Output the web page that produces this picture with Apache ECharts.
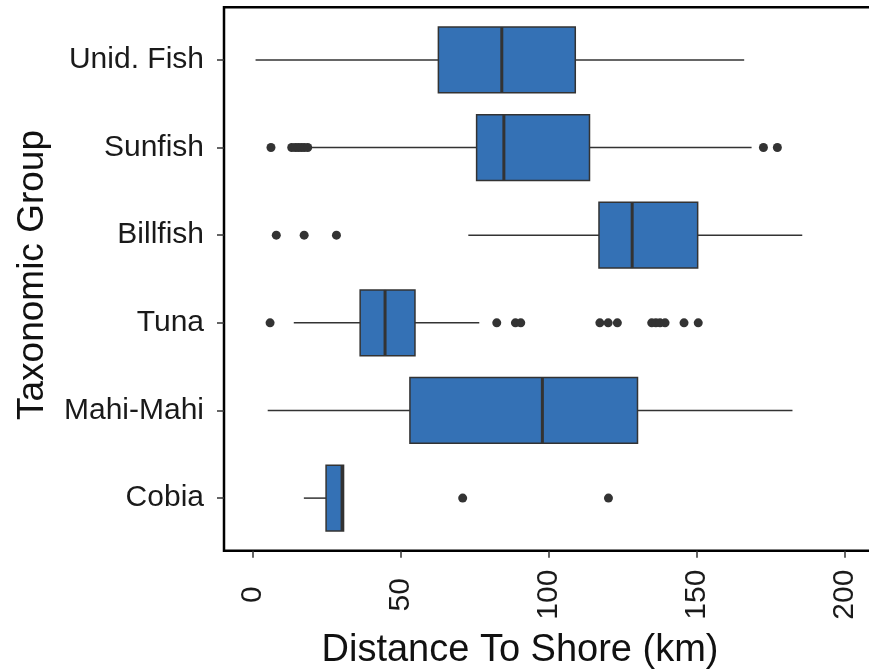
<!DOCTYPE html>
<html>
<head>
<meta charset="utf-8">
<title>Distance To Shore by Taxonomic Group</title>
<script src="https://cdn.jsdelivr.net/npm/echarts@6/dist/echarts.min.js"></script>
<style>
  html, body { margin: 0; padding: 0; background: #ffffff; }
  #chart { width: 869px; height: 672px; }
</style>
</head>
<body>
<div id="chart"></div>
<script>
// Groups, listed top to bottom
const categories = ['Unid. Fish', 'Sunfish', 'Billfish', 'Tuna', 'Mahi-Mahi', 'Cobia'];

// Five-number summaries (km)
const whiskerLow  = [1.1, 20.0, 72.9, 14.0, 5.2, 17.4];
const lowerQuart  = [62.8, 75.7, 117.0, 36.4, 53.2, 24.9];
const medians     = [84.2, 84.9, 128.2, 44.8, 97.9, 30.3];
const upperQuart  = [109.0, 113.8, 150.3, 54.9, 130.0, 30.8];
const whiskerHigh = [166.0, 168.5, 185.6, 76.6, 182.3, 30.8];

// Outlying observations per group (km)
const outliersUnidFish = [];
const outliersSunfish  = [6.3, 13.3, 14.5, 15.5, 16.5, 17.5, 18.7, 172.5, 177.2];
const outliersBillfish = [8.1, 17.5, 28.4];
const outliersTuna     = [6.0, 82.5, 88.8, 90.6, 117.3, 120.1, 123.2, 134.8, 136.2, 137.6, 139.3, 145.7, 150.5];
const outliersMahiMahi = [];
const outliersCobia    = [71.0, 120.2];

// X axis ticks
const xTicks = [0, 50, 100, 150, 200];

const outlierGroups = [outliersUnidFish, outliersSunfish, outliersBillfish,
                       outliersTuna, outliersMahiMahi, outliersCobia];

const boxData = categories.map(function (c, i) {
  return [i, whiskerLow[i], lowerQuart[i], medians[i], upperQuart[i], whiskerHigh[i]];
});
const outlierData = [];
outlierGroups.forEach(function (vals, i) {
  vals.forEach(function (v) { outlierData.push([v, i]); });
});

const FONT = "'Liberation Sans', Arial, sans-serif";
const INK = '#333333';
const X_MIN = -9.55, X_MAX = 211.5;

// Panel frame and the plotting area inside it (discrete axis padded by 0.6 bands)
const frame = { left: 224, right: -10, top: 7.3, bottom: 121.3 };
const panelH = 672 - frame.top - frame.bottom;
const unit = panelH / 6.2;
const inner = { left: frame.left, right: frame.right,
                top: frame.top + 0.1 * unit, bottom: frame.bottom + 0.1 * unit };

function renderBox(params, api) {
  const cat = api.value(0);
  const pLo = api.coord([api.value(1), cat]);
  const pQ1 = api.coord([api.value(2), cat]);
  const pMed = api.coord([api.value(3), cat]);
  const pQ3 = api.coord([api.value(4), cat]);
  const pHi = api.coord([api.value(5), cat]);
  const h = api.size([0, 1])[1] * 0.75;
  const y = pMed[1];
  const lineStyle = { stroke: INK, lineWidth: 1.5 };
  return {
    type: 'group',
    children: [
      { type: 'line', shape: { x1: pLo[0], y1: y, x2: pQ1[0], y2: y }, style: lineStyle },
      { type: 'line', shape: { x1: pQ3[0], y1: y, x2: pHi[0], y2: y }, style: lineStyle },
      { type: 'rect', shape: { x: pQ1[0], y: y - h / 2, width: pQ3[0] - pQ1[0], height: h },
        style: { fill: '#3471b5', stroke: INK, lineWidth: 1.5 } },
      { type: 'line', shape: { x1: pMed[0], y1: y - h / 2, x2: pMed[0], y2: y + h / 2 },
        style: { stroke: INK, lineWidth: 3 } }
    ]
  };
}

const chart = echarts.init(document.getElementById('chart'), null, { renderer: 'canvas' });
chart.setOption({
  animation: false,
  backgroundColor: '#ffffff',
  grid: [
    Object.assign({ show: true, borderColor: '#000000', borderWidth: 2.5,
                    backgroundColor: 'transparent', containLabel: false,
                    outerBoundsMode: 'none' }, frame),
    Object.assign({ containLabel: false, outerBoundsMode: 'none' }, inner)
  ],
  xAxis: [
    {
      gridIndex: 0, type: 'value', min: X_MIN, max: X_MAX,
      name: 'Distance To Shore (km)', nameLocation: 'middle', nameGap: 81,
      nameTextStyle: { fontFamily: FONT, fontSize: 38, color: '#111111', padding: [0, 63, 0, 0] },
      axisLine: { show: false, onZero: false },
      splitLine: { show: false },
      axisTick: { show: true, length: 7, customValues: xTicks,
                  lineStyle: { color: INK, width: 1.5 } },
      axisLabel: { show: true, customValues: xTicks, rotate: 90, margin: 44,
                   align: 'center', verticalAlign: 'middle',
                   fontFamily: FONT, fontSize: 30, color: '#1a1a1a' }
    },
    {
      gridIndex: 1, type: 'value', min: X_MIN, max: X_MAX, show: false,
      axisLine: { onZero: false }
    }
  ],
  yAxis: [
    { gridIndex: 0, type: 'value', show: false, axisLine: { onZero: false } },
    {
      gridIndex: 1, type: 'category', data: categories, inverse: true,
      name: 'Taxonomic Group', nameLocation: 'middle', nameGap: 173, nameRotate: 90,
      nameTextStyle: { fontFamily: FONT, fontSize: 37, color: '#111111', padding: [0, 0, 0, 8] },
      axisLine: { show: false, onZero: false },
      splitLine: { show: false },
      axisTick: { show: true, alignWithLabel: true, length: 7,
                  lineStyle: { color: INK, width: 1.5 } },
      axisLabel: { margin: 20, fontFamily: FONT, fontSize: 30, color: '#1a1a1a' }
    }
  ],
  series: [
    {
      type: 'custom', xAxisIndex: 1, yAxisIndex: 1,
      renderItem: renderBox,
      encode: { x: [1, 2, 3, 4, 5], y: 0 },
      data: boxData
    },
    {
      type: 'scatter', xAxisIndex: 1, yAxisIndex: 1,
      symbol: 'circle', symbolSize: 9,
      itemStyle: { color: INK, opacity: 1 },
      data: outlierData
    }
  ]
});
</script>
</body>
</html>
